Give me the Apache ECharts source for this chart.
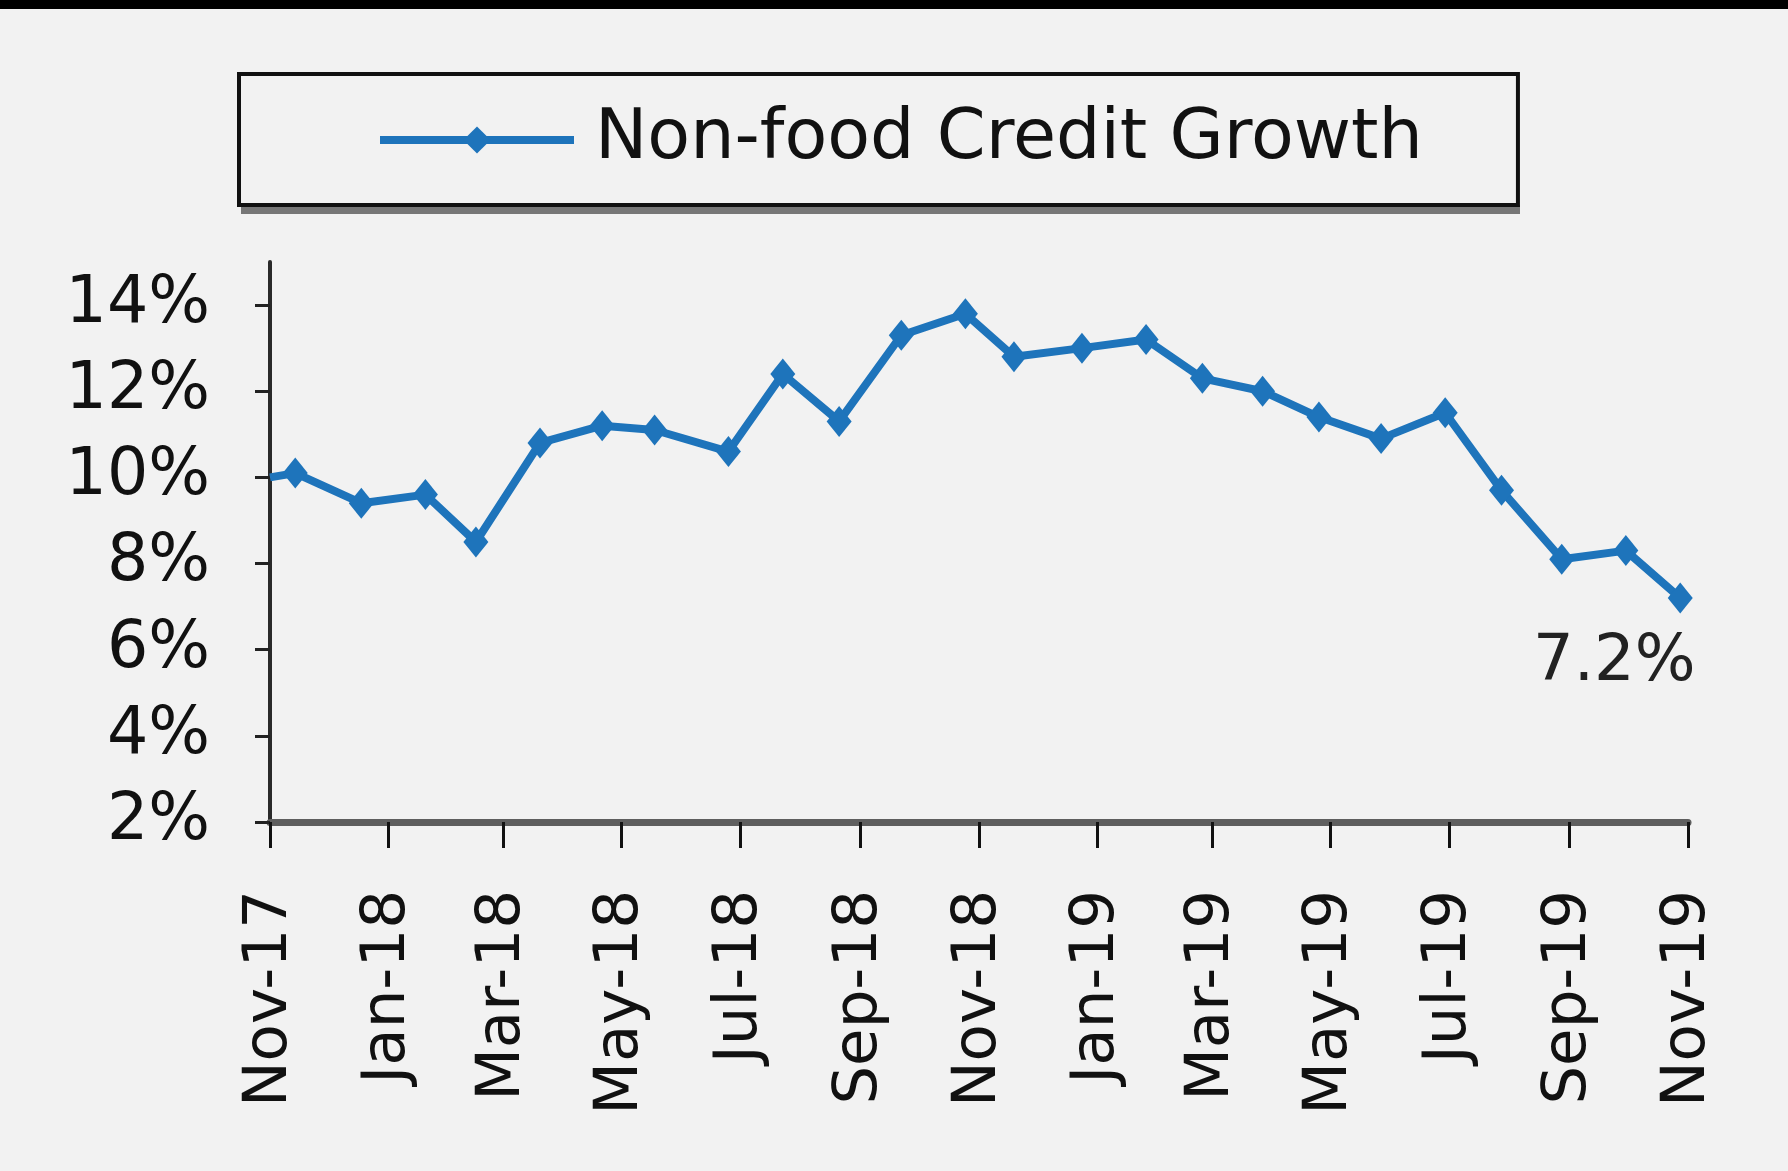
<!DOCTYPE html>
<html lang="en">
<head>
  <meta charset="UTF-8">
  <title>Non-food Credit Growth</title>
  <style>
    html, body {
      margin: 0;
      padding: 0;
      background: #f2f2f2;
    }
    #chart {
      width: 1788px;
      height: 1171px;
    }
  </style>
  <script src="https://cdn.jsdelivr.net/npm/echarts@6/dist/echarts.min.js"></script>
</head>
<body>
<div id="chart"></div>

<script>
  // data (fortnightly reporting dates, % y/y)
  var dates = ['2017-11-01', '2017-11-14', '2017-12-18', '2018-01-20', '2018-02-15', '2018-03-20',
    '2018-04-21', '2018-05-18', '2018-06-25', '2018-07-23', '2018-08-21', '2018-09-22',
    '2018-10-25', '2018-11-19', '2018-12-24', '2019-01-26', '2019-02-24', '2019-03-27',
    '2019-04-25', '2019-05-27', '2019-06-29', '2019-07-28', '2019-08-28', '2019-09-30',
    '2019-10-28'];
  var growth = [10.0, 10.1, 9.4, 9.6, 8.5, 10.8, 11.2, 11.1, 10.6, 12.4, 11.3, 13.3,
    13.8, 12.8, 13.0, 13.2, 12.3, 12.0, 11.4, 10.9, 11.5, 9.7, 8.1, 8.3, 7.2];

  // x axis ticks
  var tickDates = ['2017-11-01', '2018-01-01', '2018-03-01', '2018-05-01', '2018-07-01',
    '2018-09-01', '2018-11-01', '2019-01-01', '2019-03-01', '2019-05-01', '2019-07-01',
    '2019-09-01', '2019-11-01'];
  var tickLabels = ['Nov-17', 'Jan-18', 'Mar-18', 'May-18', 'Jul-18', 'Sep-18', 'Nov-18',
    'Jan-19', 'Mar-19', 'May-19', 'Jul-19', 'Sep-19', 'Nov-19'];

  // y axis ticks
  var yTicks = [2, 4, 6, 8, 10, 12, 14];

  var seriesName = 'Non-food Credit Growth';
  var font = 'DejaVu Sans';
  var blue = '#1e74bb';

  // dates -> day number, so a plain value axis can place them
  function toDay(s) {
    var p = s.split('-');
    return Math.round(Date.UTC(+p[0], +p[1] - 1, +p[2]) / 86400000);
  }

  var tickDays = tickDates.map(toDay);

  var seriesData = dates.map(function (d, i) {
    var item = { value: [toDay(d), growth[i]] };
    if (i === 0) {
      item.symbol = 'none';
    }
    if (i === dates.length - 1) {
      item.label = {
        show: true,
        formatter: growth[i].toFixed(1) + '%',
        position: 'bottom',
        distance: 16,
        offset: [-66, 2],
        fontSize: 64,
        fontFamily: font,
        color: '#222'
      };
    }
    return item;
  });

  var myChart = echarts.init(document.getElementById('chart'));

  var option = {
    backgroundColor: '#f2f2f2',
    animation: false,
    textStyle: { fontFamily: font },
    graphic: [{
      type: 'rect',
      left: 0,
      top: 0,
      shape: { width: 1788, height: 9 },
      style: { fill: '#000' }
    }, {
      // grey drop shadow under the legend box
      type: 'rect',
      left: 241,
      top: 205,
      z: -1,
      shape: { width: 1279, height: 9 },
      style: { fill: '#777' }
    }],
    legend: {
      data: [seriesName],
      left: 239,
      top: 74,
      padding: [31, 95, 30, 137],
      itemWidth: 194,
      itemHeight: 34,
      backgroundColor: '#f2f2f2',
      borderColor: '#111',
      borderWidth: 4,
      borderRadius: 0,
      lineStyle: { width: 8 },
      textStyle: {
        fontSize: 70,
        fontFamily: font,
        color: '#111',
        padding: [0, 0, 0, 16]
      }
    },
    grid: {
      left: 270,
      right: 100,
      top: 262,
      bottom: 349,
      containLabel: false
    },
    xAxis: {
      type: 'value',
      min: tickDays[0],
      max: tickDays[tickDays.length - 1],
      axisLine: {
        lineStyle: { color: '#5e5e5e', width: 7 }
      },
      axisTick: {
        show: true,
        customValues: tickDays,
        length: 26,
        lineStyle: { color: '#111', width: 3 }
      },
      axisLabel: {
        customValues: tickDays,
        rotate: 90,
        margin: 68,
        fontSize: 61,
        fontFamily: font,
        color: '#111',
        hideOverlap: false,
        formatter: function (val) {
          var best = 0;
          for (var i = 1; i < tickDays.length; i++) {
            if (Math.abs(tickDays[i] - val) < Math.abs(tickDays[best] - val)) best = i;
          }
          return tickLabels[best];
        }
      },
      splitLine: { show: false }
    },
    yAxis: {
      type: 'value',
      min: 2,
      max: 15,
      axisLine: {
        show: true,
        lineStyle: { color: '#2a2a2a', width: 4 }
      },
      axisTick: {
        show: true,
        customValues: yTicks,
        length: 15,
        lineStyle: { color: '#222', width: 3 }
      },
      axisLabel: {
        customValues: yTicks,
        margin: 60,
        fontSize: 65,
        fontFamily: font,
        color: '#111',
        formatter: '{value}%'
      },
      splitLine: { show: false }
    },
    series: [{
      name: seriesName,
      type: 'line',
      data: seriesData,
      symbol: 'diamond',
      symbolSize: [25, 31],
      itemStyle: { color: blue },
      lineStyle: { color: blue, width: 8 }
    }]
  };

  myChart.setOption(option);
</script>
</body>
</html>
